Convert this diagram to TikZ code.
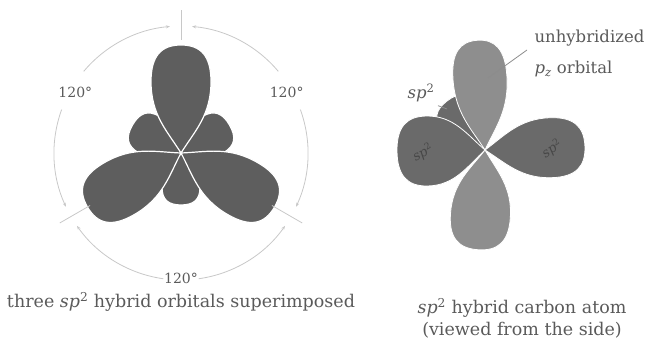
\documentclass[tikz,border=0pt]{standalone}
\usepackage{fontspec}
\setmainfont{DejaVu Serif}
\usetikzlibrary{arrows.meta,calc}
\definecolor{lobedark}{HTML}{5E5E5E}
\definecolor{pgray}{HTML}{8E8E8E}
\definecolor{spgray}{HTML}{6A6A6A}
\definecolor{guide}{HTML}{C8C8C8}
\definecolor{txt}{HTML}{5A5A5A}
\tikzset{
  pics/lobe/.style 2 args={code={
    \path[pic actions] (0,0)
      .. controls (0.2*#1,0.45*#2) and (0.35*#1,#2) .. (0.66*#1,#2)
      .. controls (0.9*#1,#2) and (#1,0.66*#2) .. (#1,0)
      .. controls (#1,-0.66*#2) and (0.9*#1,-#2) .. (0.66*#1,-#2)
      .. controls (0.35*#1,-#2) and (0.2*#1,-0.45*#2) .. (0,0) -- cycle;
  }},
  hyb/.style={fill=lobedark, draw=white, line width=1.2pt},
  plobe/.style={fill=pgray, draw=white, line width=0.8pt},
  splobe/.style={fill=spgray, draw=white, line width=0.8pt},
  guideline/.style={draw=guide, line width=0.8pt},
  guidearc/.style={draw=guide, line width=0.8pt, -{Stealth[length=4pt,width=3pt]}},
  anglabel/.style={text=txt, font=\fontsize{14}{16}\selectfont},
  sidelabel/.style={text=txt, font=\fontsize{16.5}{18}\selectfont},
  caption/.style={text=txt, font=\fontsize{17.5}{22}\selectfont, align=center},
  lobelabel/.style={text=black!72, font=\fontsize{13}{15}\selectfont},
  leader/.style={draw=black!45, line width=0.8pt},
}
\begin{document}
\begin{tikzpicture}[x=1pt,y=1pt]
\useasboundingbox (0,0) rectangle (648,339);

% ---- three sp2 hybrid orbitals superimposed ----
\coordinate (c1) at (181,186);
% small back lobes
\pic[hyb, rotate=150] (b1) at (c1) {lobe={56}{21}};
\pic[hyb, rotate=30]  (b2) at (c1) {lobe={56}{21}};
\pic[hyb, rotate=270] (b3) at (c1) {lobe={52}{19}};
% large front lobes
\pic[hyb, rotate=90]  (f1) at (c1) {lobe={108}{30}};
\pic[hyb, rotate=210] (f2) at (c1) {lobe={108}{30}};
\pic[hyb, rotate=330] (f3) at (c1) {lobe={108}{30}};

% radial guide lines
\coordinate (r1a) at ($(c1)+(90:113)$);  \coordinate (r1b) at ($(c1)+(90:143)$);
\coordinate (r2a) at ($(c1)+(210:105)$); \coordinate (r2b) at ($(c1)+(210:140)$);
\coordinate (r3a) at ($(c1)+(330:105)$); \coordinate (r3b) at ($(c1)+(330:140)$);
\draw[guideline] (r1a) -- (r1b);
\draw[guideline] (r2a) -- (r2b);
\draw[guideline] (r3a) -- (r3b);

% angle arcs
\draw[guidearc] ($(c1)+(140:127)$) arc[start angle=140, end angle=95, radius=127];
\draw[guidearc] ($(c1)+(160:127)$) arc[start angle=160, end angle=205, radius=127];
\draw[guidearc] ($(c1)+(40:127)$)  arc[start angle=40, end angle=85, radius=127];
\draw[guidearc] ($(c1)+(20:127)$)  arc[start angle=20, end angle=-25, radius=127];
\draw[guidearc] ($(c1)+(262:127)$) arc[start angle=262, end angle=215, radius=127];
\draw[guidearc] ($(c1)+(278:127)$) arc[start angle=278, end angle=325, radius=127];

\node[anglabel] (a1) at ($(c1)+(150:122)$) {120°};
\node[anglabel] (a2) at ($(c1)+(30:122)$)  {120°};
\node[anglabel] (a3) at ($(c1)+(270:125)$) {120°};

\node[caption] (cap1) at (181,37) {three \textit{sp}\textsuperscript{2} hybrid orbitals superimposed};

% ---- sp2 hybrid carbon atom, side view ----
\coordinate (c2) at (485,189);
\pic[splobe, rotate=128] (s0) at (c2) {lobe={62}{22}};
\pic[plobe, rotate=94]   (pz1) at (c2) {lobe={110}{27}};
\pic[splobe, rotate=181] (s1) at (c2) {lobe={88}{35}};
\pic[splobe, rotate=2]   (s2) at (c2) {lobe={100}{30}};
\pic[plobe, rotate=266]  (pz2) at (c2) {lobe={100}{30}};

\node[lobelabel, rotate=30] (l1) at (423,186) {\textit{sp}\textsuperscript{2}};
\node[lobelabel, rotate=35] (l2) at (552,190) {\textit{sp}\textsuperscript{2}};

\coordinate (spend) at (447,230);
\node[sidelabel] (l3) at (421,246) {\textit{sp}\textsuperscript{2}};
\draw[leader] (l3.south east) -- (spend);

\coordinate (pzend) at (488,261);
\coordinate (pzstart) at (527,289);
\node[sidelabel, anchor=west] (u1) at (531,301) {unhybridized};
\node[sidelabel, anchor=west] (u2) at (531,270) {\textit{p}\textsubscript{\textit{z}} orbital};
\draw[leader] (pzstart) -- (pzend);

\node[caption] (cap2) at (522,21) {\textit{sp}\textsuperscript{2} hybrid carbon atom\\(viewed from the side)};
\end{tikzpicture}
\end{document}
